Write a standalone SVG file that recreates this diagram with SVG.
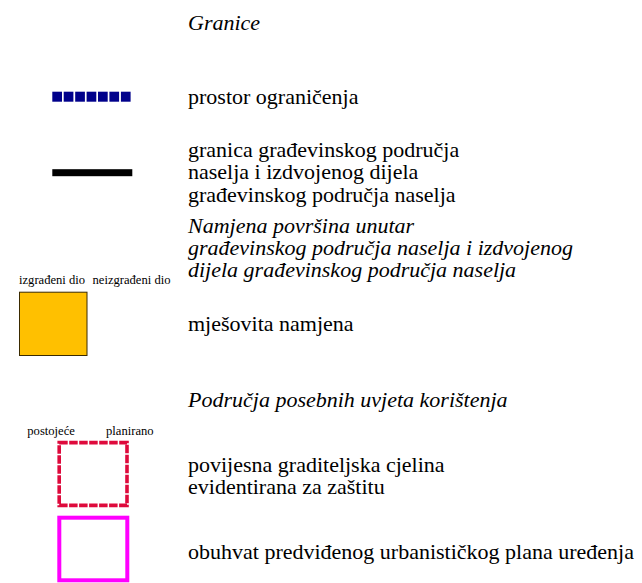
<svg xmlns="http://www.w3.org/2000/svg" width="642" height="583" viewBox="0 0 642 583">
<style>
text{font-family:"Liberation Serif","Times New Roman",serif;fill:#000}
.t{font-size:22px}
.h{font-size:22px;font-style:italic}
.s{font-size:12.6px}
</style>
<defs>
<rect id="bq" width="9.7" height="10" fill="#00008B"/>
</defs>
<rect width="642" height="583" fill="#fff"/>
<g id="title-granice"><text class="h" x="188" y="29.5">Granice</text></g>
<g id="prostor-ogranicenja">
<use href="#bq" x="52.3" y="91.7"/><use href="#bq" x="63.7" y="91.7"/><use href="#bq" x="75.2" y="91.7"/><use href="#bq" x="86.6" y="91.7"/><use href="#bq" x="98" y="91.7"/><use href="#bq" x="109.4" y="91.7"/><use href="#bq" x="120.9" y="91.7"/>
<text class="t" x="188" y="104">prostor ograničenja</text>
</g>
<g id="granica-gp">
<rect x="52.3" y="169.2" width="80" height="7" fill="#000"/>
<text class="t" x="188" y="157">granica građevinskog područja</text>
<text class="t" x="188" y="179.3">naselja i izdvojenog dijela</text>
<text class="t" x="188" y="201.8">građevinskog područja naselja</text>
</g>
<g id="title-namjena">
<text class="h" x="188" y="233">Namjena površina unutar</text>
<text class="h" x="188" y="254.5">građevinskog područja naselja i izdvojenog</text>
<text class="h" x="188" y="277">dijela građevinskog područja naselja</text>
</g>
<g id="mjesovita">
<text class="s" x="19" y="284">izgrađeni dio</text>
<text class="s" x="92.5" y="284">neizgrađeni dio</text>
<rect x="19.5" y="292.2" width="67.5" height="63.3" fill="#FFC000" stroke="#3a2a00" stroke-width="1"/>
<text class="t" x="188" y="330.5">mješovita namjena</text>
</g>
<g id="title-podrucja"><text class="h" x="188" y="406.5">Područja posebnih uvjeta korištenja</text></g>
<g id="povijesna">
<text class="s" x="27.3" y="435">postojeće</text>
<text class="s" x="106" y="435">planirano</text>
<rect x="59.2" y="442.6" width="67.8" height="62.8" fill="none" stroke="#DE0A3C" stroke-width="3.6" stroke-dasharray="8.5 1.5"/>
<text class="t" x="188" y="472">povijesna graditeljska cjelina</text>
<text class="t" x="188" y="494">evidentirana za zaštitu</text>
</g>
<g id="obuhvat-upu">
<rect x="59.3" y="517.7" width="68" height="62.6" fill="none" stroke="#FF00FF" stroke-width="4"/>
<text class="t" x="188" y="559">obuhvat predviđenog urbanističkog plana uređenja</text>
</g>
<g id="connectors"/>
</svg>
